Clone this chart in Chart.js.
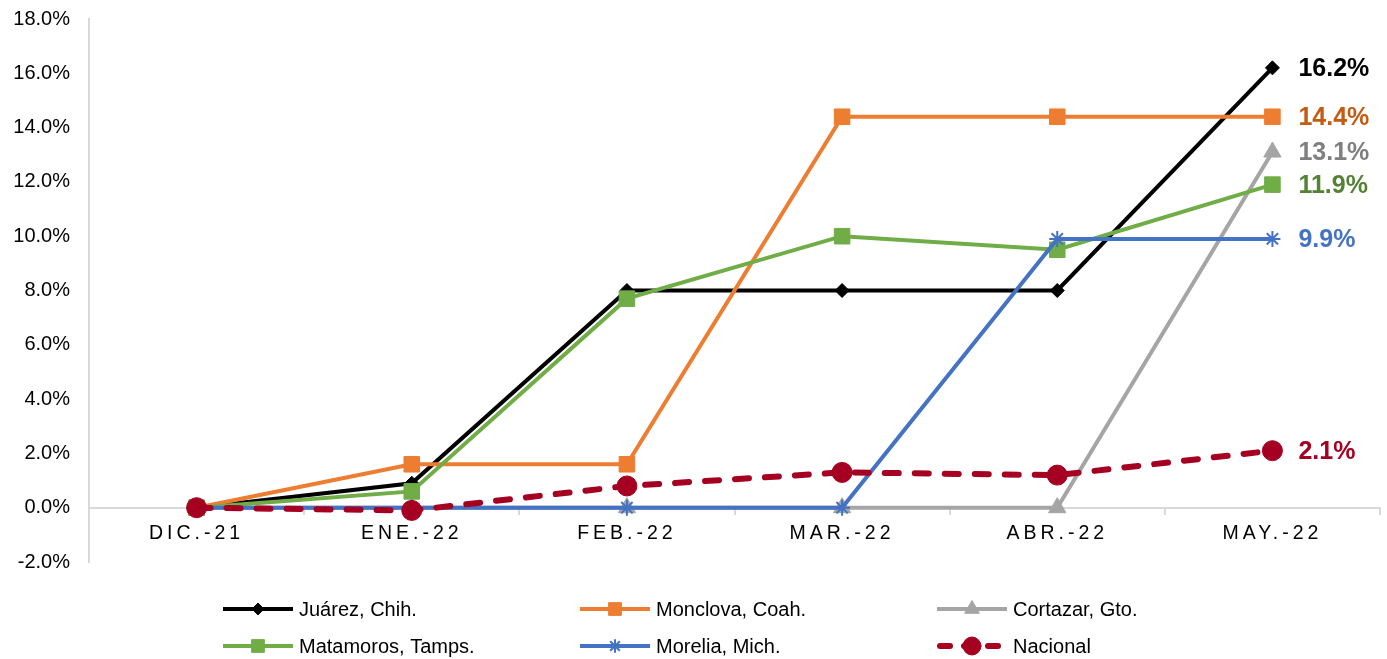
<!DOCTYPE html>
<html>
<head>
<meta charset="utf-8">
<script src="https://cdn.jsdelivr.net/npm/chart.js@4.4.1/dist/chart.umd.min.js"></script>
<style>
html,body{margin:0;padding:0;background:#fff;overflow:hidden;}
#wrap{width:1387px;height:659px;position:relative;}
</style>
</head>
<body>
<div id="wrap"><canvas id="c"></canvas></div>
<script>
// ---- data ----
const categories = ['DIC.-21', 'ENE.-22', 'FEB.-22', 'MAR.-22', 'ABR.-22', 'MAY.-22'];
const juarez    = [0, 0.9, 8.0, 8.0, 8.0, 16.2];
const monclova  = [0, 1.6, 1.6, 14.4, 14.4, 14.4];
const cortazar  = [0, 0, 0, 0, 0, 13.1];
const matamoros = [0, 0.6, 7.7, 10.0, 9.5, 11.9];
const morelia   = [0, 0, 0, 0, 9.9, 9.9];
const nacional  = [0, -0.1, 0.8, 1.3, 1.2, 2.1];
const seriesNames = ['Juárez, Chih.', 'Monclova, Coah.', 'Cortazar, Gto.', 'Matamoros, Tamps.', 'Morelia, Mich.', 'Nacional'];
const yMin = -2, yMax = 18, yStep = 2;

// ---- styles ----
const FONT = '"Liberation Sans", Arial, sans-serif';
const lineColors  = ['#000000', '#ED7D31', '#A5A5A5', '#70AD47', '#4472C4', '#A50021'];
const labelColors = ['#000000', '#C55A11', '#7F7F7F', '#548235', '#4472C4', '#A50021'];
const pointStyles = ['rectRot', 'rect', 'triangle', 'rect', 'star', 'circle'];
const pointRadii  = [7, 11, 10, 11, 8, 10];
const lineWidths  = [4, 4, 4, 4, 4, 6];
const seriesData  = [juarez, monclova, cortazar, matamoros, morelia, nacional];

const datasets = seriesData.map((d, i) => ({
  label: seriesNames[i],
  data: d,
  borderColor: lineColors[i],
  backgroundColor: lineColors[i],
  pointBackgroundColor: lineColors[i],
  pointBorderColor: lineColors[i],
  pointBorderWidth: pointStyles[i] === 'star' ? 2 : 1,
  pointStyle: pointStyles[i],
  pointRadius: pointRadii[i],
  pointHoverRadius: pointRadii[i],
  borderWidth: lineWidths[i],
  borderDash: i === 5 ? [14, 16] : [],
  borderCapStyle: i === 5 ? 'round' : 'butt',
  tension: 0,
  fill: false,
  clip: false,
  order: 6 - i
}));

function drawMarker(ctx, style, r, x, y, color, bw) {
  if (Chart.helpers && Chart.helpers.drawPoint) {
    ctx.fillStyle = color; ctx.strokeStyle = color; ctx.lineWidth = bw;
    ctx.setLineDash([]);
    Chart.helpers.drawPoint(ctx, {pointStyle: style, radius: r, rotation: 0, borderWidth: bw}, x, y);
    return;
  }
  ctx.beginPath(); ctx.arc(x, y, r, 0, Math.PI * 2); ctx.fillStyle = color; ctx.fill();
}

const endLabels = {
  id: 'endLabels',
  afterDatasetsDraw(chart) {
    const ctx = chart.ctx;
    ctx.save();
    ctx.font = 'bold 25px ' + FONT;
    ctx.textBaseline = 'middle';
    ctx.textAlign = 'left';
    chart.data.datasets.forEach((ds, i) => {
      const meta = chart.getDatasetMeta(i);
      const el = meta.data[meta.data.length - 1];
      const v = ds.data[ds.data.length - 1];
      ctx.fillStyle = labelColors[i];
      ctx.fillText(v.toFixed(1) + '%', el.x + 26, el.y + 1);
    });
    ctx.restore();
  }
};

const gridLegend = {
  id: 'gridLegend',
  afterDraw(chart) {
    const ctx = chart.ctx;
    const cols = [223, 580, 937];
    const rows = [609, 646];
    ctx.save();
    chart.data.datasets.forEach((ds, i) => {
      const x0 = cols[i % 3];
      const y = rows[Math.floor(i / 3)];
      ctx.beginPath();
      ctx.strokeStyle = ds.borderColor;
      ctx.lineWidth = ds.borderWidth;
      ctx.lineCap = ds.borderCapStyle;
      ctx.setLineDash(i === 5 ? [10, 14] : []);
      ctx.moveTo(x0 + (i === 5 ? 3 : 0), y);
      ctx.lineTo(x0 + 70, y);
      ctx.stroke();
      const r = i === 5 ? 9 : (pointStyles[i] === 'rect' ? 9 : pointRadii[i] * 0.85);
      drawMarker(ctx, ds.pointStyle, r, x0 + 35, y, ds.borderColor, ds.pointBorderWidth);
      ctx.font = '20px ' + FONT;
      ctx.fillStyle = '#000';
      ctx.textBaseline = 'middle';
      ctx.textAlign = 'left';
      ctx.fillText(ds.label, x0 + 76, y + 1);
    });
    ctx.restore();
  }
};

const xSpacing = {
  id: 'xSpacing',
  beforeDraw(chart) {
    const s = chart.scales.x;
    if (s && !s._spaced) {
      const orig = s.drawLabels;
      s.drawLabels = function (a) {
        const ctx = this.ctx;
        ctx.save();
        ctx.letterSpacing = '4px';
        orig.call(this, a);
        ctx.restore();
      };
      s._spaced = true;
    }
  }
};

new Chart(document.getElementById('c'), {
  type: 'line',
  data: { labels: categories, datasets },
  plugins: [endLabels, gridLegend, xSpacing],
  options: {
    responsive: true,
    maintainAspectRatio: false,
    animation: false,
    devicePixelRatio: 1,
    layout: { autoPadding: false, padding: { left: 0, right: 7, top: 19, bottom: 97 } },
    plugins: { legend: { display: false }, tooltip: { enabled: false } },
    scales: {
      x: {
        type: 'category',
        position: { y: 0 },
        offset: true,
        afterFit(s) { s.paddingLeft = 0; s.paddingRight = 0; },
        grid: { display: true, offset: true, drawOnChartArea: false, drawTicks: true, tickLength: 6, color: '#D9D9D9', lineWidth: 2 },
        border: { display: true, color: '#D9D9D9', width: 2 },
        ticks: { color: '#000', font: { family: FONT, size: 19.5 }, padding: 8, maxRotation: 0, autoSkip: false }
      },
      y: {
        min: yMin, max: yMax,
        afterFit(s) { s.width = 89; s.paddingTop = 0; s.paddingBottom = 0; },
        grid: { display: false, drawTicks: false },
        border: { display: true, color: '#D9D9D9', width: 2 },
        ticks: { stepSize: yStep, color: '#000', font: { family: FONT, size: 20 }, padding: 19,
          callback: v => v.toFixed(1) + '%' }
      }
    }
  }
});
</script>
</body>
</html>
